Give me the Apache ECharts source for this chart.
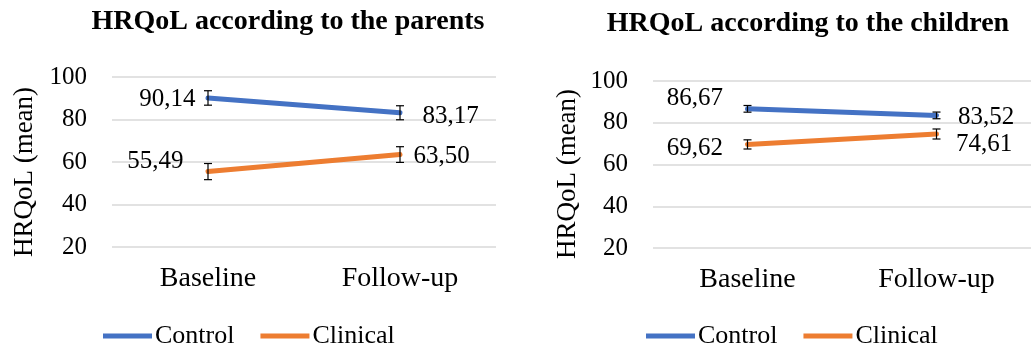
<!DOCTYPE html>
<html>
<head>
<meta charset="utf-8">
<script src="https://cdn.jsdelivr.net/npm/echarts@6/dist/echarts.min.js"></script>
<style>
html,body{margin:0;padding:0;background:#fff;}
#c{width:1031px;height:345px;}
</style>
</head>
<body>
<div id="c"></div>
<script>
// ---- data ----
const categories = ['Baseline', 'Follow-up'];
const seriesNames = ['Control', 'Clinical'];
const yTicks = [20, 40, 60, 80, 100];

const parentsControl = [90.14, 83.17];
const parentsClinical = [55.49, 63.50];
const parentsControlErr = [3.4, 3.3];
const parentsClinicalErr = [3.8, 3.7];

const childrenControl = [86.67, 83.52];
const childrenClinical = [69.62, 74.61];
const childrenControlErr = [1.6, 1.6];
const childrenClinicalErr = [2.2, 2.4];

const titles = ['HRQoL according to the parents', 'HRQoL according to the children'];
const yName = 'HRQoL (mean)';

// ---- style ----
const FONT = "'Liberation Serif', 'Times New Roman', serif";
const BLUE = '#4472C4';
const ORANGE = '#ED7D31';

// label placement per chart / series / point: [position, distance, dx, dy]
const labelPlace = {
  pControl:  [['left', 12, 0, 1], ['right', 22, 0, 4]],
  pClinical: [['left', 24, 0, -10], ['right', 13, 0, 2]],
  cControl:  [['left', 24, 0, -10], ['right', 21, 0, 2]],
  cClinical: [['left', 24, 0, 4], ['right', 19, 0, 10]]
};

function fmt(v) { return v.toFixed(2).replace('.', ','); }

function lineData(values, places) {
  return values.map((v, i) => ({
    value: v,
    label: {
      show: true,
      position: places[i][0],
      distance: places[i][1],
      offset: [places[i][2], places[i][3]],
      formatter: fmt(v),
      color: '#000',
      fontFamily: FONT,
      fontSize: 25
    }
  }));
}

function lineSeries(name, values, errs, places, color, idx) {
  return {
    name: name,
    type: 'line',
    xAxisIndex: idx,
    yAxisIndex: idx,
    data: lineData(values, places),
    symbol: 'circle',
    symbolSize: 1,
    showSymbol: true,
    label: { show: true },
    lineStyle: { color: color, width: 5, cap: 'round' },
    itemStyle: { color: color },
    z: 3
  };
}

function errSeries(values, errs, idx) {
  return {
    type: 'custom',
    xAxisIndex: idx,
    yAxisIndex: idx,
    silent: true,
    z: 4,
    data: values.map((v, i) => [i, v, errs[i]]),
    encode: { x: 0, y: 1 },
    renderItem: function (params, api) {
      const x = api.value(0), y = api.value(1), e = api.value(2);
      const t = api.coord([x, y + e]);
      const b = api.coord([x, y - e]);
      const hw = 4;
      const st = { stroke: '#000', lineWidth: 1.2 };
      return {
        type: 'group',
        children: [
          { type: 'line', shape: { x1: t[0], y1: t[1], x2: b[0], y2: b[1] }, style: st },
          { type: 'line', shape: { x1: t[0] - hw, y1: t[1], x2: t[0] + hw, y2: t[1] }, style: st },
          { type: 'line', shape: { x1: b[0] - hw, y1: b[1], x2: b[0] + hw, y2: b[1] }, style: st }
        ]
      };
    }
  };
}

function xAxis(idx) {
  return {
    type: 'category',
    gridIndex: idx,
    data: categories,
    boundaryGap: true,
    axisLine: { show: false },
    axisTick: { show: false },
    axisLabel: { color: '#000', fontFamily: FONT, fontSize: 28, margin: 18 }
  };
}

function yAxis(idx) {
  return {
    type: 'value',
    gridIndex: idx,
    min: yTicks[0],
    max: yTicks[yTicks.length - 1],
    interval: yTicks[1] - yTicks[0],
    axisLine: { show: false },
    axisTick: { show: false },
    splitLine: { lineStyle: { color: '#D9D9D9', width: 1.5 } },
    axisLabel: { color: '#000', fontFamily: FONT, fontSize: 25, margin: 25 }
  };
}

function legend(left) {
  return {
    left: left,
    top: 318,
    data: seriesNames,
    icon: 'rect',
    itemWidth: 49,
    itemHeight: 5,
    itemGap: 26,
    selectedMode: false,
    textStyle: { color: '#000', fontFamily: FONT, fontSize: 26, padding: [0, 0, 0, -2] }
  };
}

const chart = echarts.init(document.getElementById('c'), null, { renderer: 'canvas' });
chart.setOption({
  backgroundColor: '#fff',
  animation: false,
  title: [
    { text: titles[0], left: 283, top: 3, textAlign: 'center',
      textStyle: { color: '#000', fontFamily: FONT, fontSize: 28, fontWeight: 'bold' } },
    { text: titles[1], left: 803, top: 5, textAlign: 'center',
      textStyle: { color: '#000', fontFamily: FONT, fontSize: 28, fontWeight: 'bold' } }
  ],
  legend: [legend(98), legend(641)],
  grid: [
    { left: 112, top: 77, width: 384, height: 170 },
    { left: 653, top: 81, width: 384, height: 167 }
  ],
  xAxis: [xAxis(0), xAxis(1)],
  yAxis: [yAxis(0), yAxis(1)],
  graphic: [
    { type: 'text', x: 25, y: 172, rotation: Math.PI / 2,
      style: { text: yName, fill: '#000', font: "27px 'Liberation Serif', 'Times New Roman', serif", textAlign: 'center', textVerticalAlign: 'middle' } },
    { type: 'text', x: 568, y: 174, rotation: Math.PI / 2,
      style: { text: yName, fill: '#000', font: "27px 'Liberation Serif', 'Times New Roman', serif", textAlign: 'center', textVerticalAlign: 'middle' } }
  ],
  series: [
    lineSeries(seriesNames[0], parentsControl, parentsControlErr, labelPlace.pControl, BLUE, 0),
    lineSeries(seriesNames[1], parentsClinical, parentsClinicalErr, labelPlace.pClinical, ORANGE, 0),
    errSeries(parentsControl, parentsControlErr, 0),
    errSeries(parentsClinical, parentsClinicalErr, 0),
    lineSeries(seriesNames[0], childrenControl, childrenControlErr, labelPlace.cControl, BLUE, 1),
    lineSeries(seriesNames[1], childrenClinical, childrenClinicalErr, labelPlace.cClinical, ORANGE, 1),
    errSeries(childrenControl, childrenControlErr, 1),
    errSeries(childrenClinical, childrenClinicalErr, 1)
  ]
});
</script>
</body>
</html>
